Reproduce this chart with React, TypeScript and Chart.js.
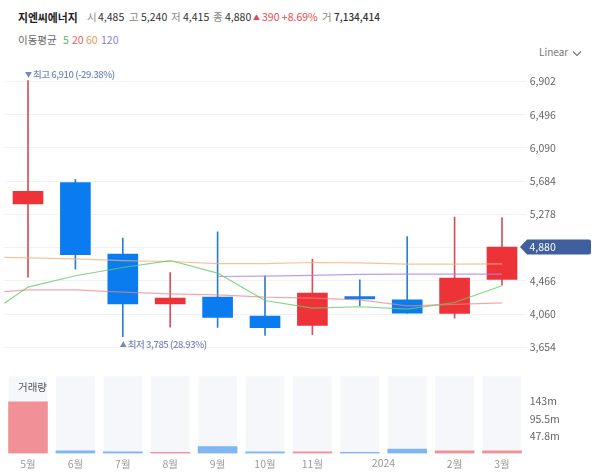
import React, { useEffect, useRef } from "react";
import { Chart, registerables } from "chart.js";

Chart.register(...registerables);

const KR_FONT = '"Noto Sans CJK KR", "Noto Sans", sans-serif';

const months = ["5월", "6월", "7월", "8월", "9월", "10월", "11월", "12월", "2024", "2월", "3월"];
const priorMonth = "4월";

const opens = [5406, 5666, 4793, 4187, 4269, 4037, 3923, 4276, 4236, 4069, 4485];
const closes = [5561, 4788, 4187, 4257, 4020, 3895, 4318, 4248, 4074, 4500, 4880];
const highs = [6910, 5707, 4988, 4569, 5065, 4529, 4732, 4480, 5008, 5244, 5240];
const lows = [4513, 4610, 3785, 3903, 3898, 3801, 3809, 4163, 4074, 4013, 4415];

// moving averages, first entry is the month before the visible range
const ma5 = [3997, 4391, 4529, 4630, 4715, 4562, 4227, 4135, 4151, 4123, 4203, 4407];
const ma20 = [4315, 4358, 4358, 4330, 4309, 4297, 4269, 4257, 4236, 4163, 4179, 4199];
const ma60 = [4757, 4748, 4736, 4715, 4703, 4678, 4678, 4691, 4687, 4671, 4671, 4675];
const ma120 = [null, null, null, null, null, 4520, 4525, 4535, 4547, 4550, 4550, 4550];

const priceTicks = [3654, 4060, 4466, 4872, 5278, 5684, 6090, 6496, 6902];
const hiddenPriceTicks = [4872];

const volumes = [141, 7.1, 4.5, 3.3, 19, 4.4, 4.4, 3, 12, 7, 7];
const volumeTicks = [47.8, 95.5, 143];
const volumeMax = 211;

const RED = "#ee3338";
const BLUE = "#0a7cf0";
const isUp = (i: number) => closes[i] >= opens[i];

const candleAnnotations = {
  id: "candleAnnotations",
  afterDatasetsDraw(chart: Chart) {
    const { ctx, scales } = chart;
    const x = scales.x;
    const y = scales.y;
    const note = (mark: string, text: string, px: number, py: number) => {
      ctx.font = `500 7px ${KR_FONT}`;
      ctx.fillText(mark, px, py);
      ctx.font = `500 9.5px ${KR_FONT}`;
      ctx.fillText(text, px + 8, py);
    };
    ctx.save();
    ctx.textBaseline = "middle";
    ctx.fillStyle = "#7389b8";
    (ctx as any).letterSpacing = "-0.45px";
    note("▼", `최고 ${highs[0].toLocaleString("en-US")} (-29.38%)`, x.getPixelForValue(1) - 3, y.getPixelForValue(highs[0]) - 6);
    note("▲", `최저 ${lows[2].toLocaleString("en-US")} (28.93%)`, x.getPixelForValue(3) - 3, y.getPixelForValue(lows[2]) + 8);
    (ctx as any).letterSpacing = "0px";

    // last price tag
    const last = closes[closes.length - 1];
    const py = y.getPixelForValue(last);
    ctx.fillStyle = "#3f5f9f";
    ctx.beginPath();
    ctx.moveTo(520, py);
    ctx.lineTo(527, py - 7.5);
    ctx.lineTo(589, py - 7.5);
    ctx.quadraticCurveTo(591, py - 7.5, 591, py - 5.5);
    ctx.lineTo(591, py + 5.5);
    ctx.quadraticCurveTo(591, py + 7.5, 589, py + 7.5);
    ctx.lineTo(527, py + 7.5);
    ctx.closePath();
    ctx.fill();
    ctx.fillStyle = "#ffffff";
    ctx.font = `10.5px ${KR_FONT}`;
    ctx.fillText(last.toLocaleString("en-US"), 529.5, py + 0.5);
    ctx.restore();
  },
};

function PriceChart() {
  const ref = useRef<HTMLCanvasElement | null>(null);

  useEffect(() => {
    const ctx = ref.current?.getContext("2d");
    if (!ctx) return;
    const line = (data: (number | null)[], color: string) => ({
      type: "line" as const,
      data,
      borderColor: color,
      borderWidth: 1.2,
      pointRadius: 0,
      tension: 0,
      order: 0,
    });
    const chart = new Chart(ctx, {
      type: "bar",
      data: {
        labels: [priorMonth, ...months],
        datasets: [
          line(ma5, "rgba(105,200,105,0.8)"),
          line(ma20, "rgba(240,130,135,0.7)"),
          line(ma60, "rgba(240,175,120,0.75)"),
          line(ma120, "rgba(175,130,235,0.8)"),
          {
            type: "bar",
            data: [null, ...opens.map((o, i) => [o, closes[i]])],
            backgroundColor: [RED, ...months.map((_, i) => (isUp(i) ? RED : BLUE))],
            barThickness: 30,
            grouped: false,
            order: 1,
          },
          {
            type: "bar",
            data: [null, ...lows.map((l, i) => [l, highs[i]])],
            backgroundColor: [RED, ...months.map((_, i) => (isUp(i) ? "#d8505a" : "#2a80cc"))],
            barThickness: 1,
            grouped: false,
            order: 2,
          },
        ] as any,
      },
      options: {
        responsive: false,
        animation: false,
        layout: { autoPadding: false, padding: { left: 4.3, top: 60, right: 0, bottom: 0 } },
        plugins: { legend: { display: false }, tooltip: { enabled: false } },
        scales: {
          x: {
            min: months[0],
            offset: true,
            border: { display: false },
            grid: { display: false, drawTicks: false },
            ticks: { display: false },
            afterFit: (s: any) => {
              s.height = 0;
            },
          },
          y: {
            position: "right",
            min: 3566,
            max: 7162,
            border: { display: false },
            grid: { color: "#f1f2f4", drawTicks: false },
            afterBuildTicks: (s: any) => {
              s.ticks = priceTicks.map((value) => ({ value }));
            },
            afterFit: (s: any) => {
              s.width = 74.3;
            },
            ticks: {
              padding: 4,
              color: "#666",
              font: { size: 10.5, family: KR_FONT },
              callback: (v: any) => (hiddenPriceTicks.includes(v) ? "" : Number(v).toLocaleString("en-US")),
            },
          },
        },
      },
      plugins: [candleAnnotations],
    } as any);
    return () => chart.destroy();
  }, []);

  return <canvas ref={ref} width={600} height={365} style={{ position: "absolute", left: 0, top: 0 }} />;
}

const yearLabel = {
  id: "yearLabel",
  afterDraw(chart: Chart) {
    const { ctx, scales } = chart;
    const a = scales.x.getPixelForValue(7);
    const b = scales.x.getPixelForValue(8);
    ctx.save();
    ctx.font = `10.5px ${KR_FONT}`;
    ctx.fillStyle = "#999";
    ctx.textAlign = "center";
    ctx.textBaseline = "middle";
    ctx.fillText(months[8], (a + b) / 2, 97);
    ctx.restore();
  },
};

function VolumeChart() {
  const ref = useRef<HTMLCanvasElement | null>(null);

  useEffect(() => {
    const ctx = ref.current?.getContext("2d");
    if (!ctx) return;
    const chart = new Chart(ctx, {
      type: "bar",
      data: {
        labels: months,
        datasets: [
          {
            data: volumes,
            backgroundColor: months.map((_, i) => (isUp(i) ? "rgba(238,60,70,0.55)" : "rgba(30,130,235,0.55)")),
            barThickness: 39,
            grouped: false,
            order: 0,
          },
          {
            data: months.map(() => volumeMax),
            backgroundColor: "#f5f7fb",
            barThickness: 38,
            grouped: false,
            order: 1,
          },
        ],
      },
      options: {
        responsive: false,
        animation: false,
        layout: { autoPadding: false, padding: { left: 4.3, top: 10, right: 0, bottom: 0 } },
        plugins: { legend: { display: false }, tooltip: { enabled: false } },
        scales: {
          x: {
            border: { display: false },
            grid: { display: false, drawTicks: false },
            afterFit: (s: any) => {
              s.height = 22.5;
            },
            ticks: {
              autoSkip: false,
              maxRotation: 0,
              padding: 4,
              color: "#999",
              font: { size: 10.5, family: KR_FONT },
              callback: (_: any, i: number) => (i === 7 || i === 8 ? "" : months[i]),
            },
          },
          y: {
            position: "right",
            min: 0,
            max: volumeMax,
            border: { display: false },
            grid: { display: false, drawTicks: false },
            afterBuildTicks: (s: any) => {
              s.ticks = volumeTicks.map((value) => ({ value }));
            },
            afterFit: (s: any) => {
              s.width = 74.3;
            },
            ticks: {
              padding: 4,
              color: "#666",
              font: { size: 10.5, family: KR_FONT },
              callback: (v: any) => `${v}m`,
            },
          },
        },
      },
      plugins: [yearLabel],
    } as any);
    return () => chart.destroy();
  }, []);

  return <canvas ref={ref} width={600} height={110} style={{ position: "absolute", left: 0, top: 366 }} />;
}

const at = (left: number, color: string, fontSize = 10.5): React.CSSProperties => ({
  position: "absolute",
  left,
  top: 9,
  color,
  fontSize,
  lineHeight: "16px",
  whiteSpace: "nowrap",
});

export default function App() {
  return (
    <div style={{ position: "fixed", left: 0, top: 0, width: 600, height: 476, background: "#fff", fontFamily: KR_FONT, overflow: "hidden" }}>
      <b style={{ ...at(18, "#222"), fontSize: 10.8 }}>지엔씨에너지</b>
      <span style={at(87, "#888")}>시</span>
      <span style={at(98, "#333")}>4,485</span>
      <span style={at(129, "#888")}>고</span>
      <span style={at(141, "#333")}>5,240</span>
      <span style={at(171, "#888")}>저</span>
      <span style={at(183, "#333")}>4,415</span>
      <span style={at(213, "#888")}>종</span>
      <span style={at(225, "#333")}>4,880</span>
      <span style={at(253, "#e5484d", 7)}>▲</span>
      <span style={at(262, "#e5484d")}>390 +8.69%</span>
      <span style={at(322, "#888")}>거</span>
      <span style={{ ...at(334, "#333", 10), fontWeight: 500 }}>7,134,414</span>
      <div style={{ ...at(18, "#666"), top: 32 }}>이동평균</div>
      <span style={{ ...at(63, "#5cb85c"), top: 32 }}>5</span>
      <span style={{ ...at(72, "#e8636a"), top: 32 }}>20</span>
      <span style={{ ...at(86, "#e8995c"), top: 32 }}>60</span>
      <span style={{ ...at(101, "#8a7fd6"), top: 32 }}>120</span>
      <div style={{ ...at(539, "#777", 10), top: 44 }}>Linear</div>
      <svg width="10" height="8" style={{ position: "absolute", left: 572, top: 50 }}>
        <path d="M1 1.5 L5 5.5 L9 1.5" fill="none" stroke="#777" strokeWidth="1.1" />
      </svg>
      <PriceChart />
      <VolumeChart />
      <div style={{ position: "absolute", left: 18, top: 379, fontSize: 10.5, lineHeight: "16px", color: "#555" }}>거래량</div>
    </div>
  );
}
